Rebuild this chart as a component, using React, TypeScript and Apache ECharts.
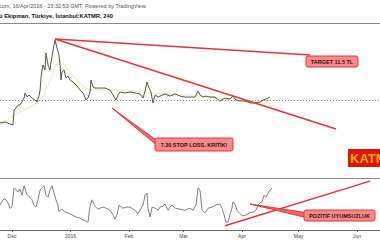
import React, { useEffect, useRef } from "react";
import * as echarts from "echarts";

// x values: days since 1 Dec 2015
const monthTicks = [0, 31, 62, 91, 122, 152, 183];
const monthLabels = ["Dec", "2016", "Feb", "Mar", "Apr", "May", "Jun"];

const priceDays = [
  -6.4, -3.7, -1.1, 0.5, 1.1, 2.1, 3.2, 4.2, 5.3, 6.4, 6.9, 8.0, 9.0, 10.6, 12.2, 13.3, 14.3, 14.9,
  15.4, 16.4, 17.5, 18.0, 19.1, 20.2, 20.7, 21.8, 22.8, 23.9, 24.9, 25.5, 26.0, 26.5, 27.6, 28.6,
  29.7, 30.8, 32.4, 34.0, 36.1, 37.7, 39.3, 40.3, 41.4, 41.9, 43.0, 44.0, 45.6, 46.7, 49.3, 52.0,
  53.6, 55.2, 56.2, 57.3, 59.9, 62.6, 65.3, 67.9, 69.5, 70.6, 71.6, 72.7, 73.7, 74.8, 75.9, 77.5,
  78.5, 81.2, 83.8, 86.5, 89.1, 91.8, 94.4, 97.1, 98.7, 99.7, 101.3, 102.9, 105.0, 107.7, 110.3,
  113.0, 115.6, 117.2, 118.8, 121.0, 123.6, 126.3, 128.9, 131.6, 133.2, 134.7, 136.9,
];
const priceValues = [
  6.36, 6.42, 6.30, 6.23, 7.15, 7.27, 7.46, 7.46, 7.64, 7.88, 8.19, 7.94, 8.07, 7.88, 7.76, 7.64, 8.0, 8.37,
  9.16, 9.9, 9.59, 10.63, 9.9, 9.59, 10.08, 10.81, 11.42, 10.93, 10.51, 9.9, 8.98, 9.47, 9.59, 9.1,
  9.23, 8.98, 8.86, 8.68, 8.37, 8.19, 7.76, 7.88, 8.25, 8.98, 8.55, 8.49, 8.49, 8.49, 8.49, 8.37,
  8.07, 7.76, 8.07, 8.25, 8.19, 8.25, 8.19, 8.13, 7.88, 8.31, 8.86, 8.49, 8.25, 7.58, 8.07, 7.94,
  8.0, 8.13, 8.0, 8.13, 8.0, 7.94, 7.94, 7.94, 8.31, 8.07, 7.94, 8.0, 7.94, 7.94, 7.7,
  7.88, 7.82, 8.0, 7.76, 7.7, 7.7, 7.58, 7.58, 7.64, 7.76, 7.82, 7.94,
];

const maDays = [-6.4, 4.2, 14.9, 20.2, 25.5, 30.8, 36.1, 41.4, 52.0, 73.2, 99.7, 126.3, 136.9];
const maValues = [6.23, 7.03, 7.76, 8.98, 10.08, 9.47, 8.8, 8.37, 8.37, 8.19, 8.0, 7.7, 7.76];

const oscDays = [
  -6.4, -4.8, -3.7, -2.1, -1.1, 0, 1.1, 2.1, 3.2, 4.2, 5.3, 6.4, 8.0, 9.5, 10.6, 11.7, 12.7, 13.8,
  14.9, 15.9, 17.0, 18.0, 19.1, 20.2, 21.2, 22.3, 23.3, 24.4, 24.9, 25.5, 26.5, 28.1, 29.7, 31.8,
  34.0, 36.1, 37.7, 39.3, 40.3, 41.4, 42.4, 44.0, 45.6, 46.7, 48.3, 49.9, 52.0, 53.6, 54.6, 55.7,
  56.8, 57.3, 58.9, 60.5, 62.6, 64.2, 65.3, 66.8, 67.9, 69.5, 70.6, 71.6, 72.1, 73.2, 74.3, 75.9,
  77.5, 78.5, 80.1, 81.2, 82.8, 83.8, 84.9, 86.5, 89.1, 91.8, 94.4, 96.0, 97.6, 98.7, 99.7, 100.8,
  102.4, 104.0, 106.1, 108.2, 110.3, 111.4, 112.5, 113.5, 114.6, 115.6, 116.7, 117.2, 118.3, 119.4,
  121.0, 122.5, 124.1, 126.3, 128.4, 129.4, 130.5, 131.6, 132.6, 133.7, 134.7, 135.8, 136.9, 138.0,
];
const oscValues = [
  48, 58, 60, 52, 42, 44, 81, 77, 73, 79, 67, 85, 67, 63, 58, 48, 44, 58,
  77, 81, 85, 67, 63, 77, 85, 71, 58, 48, 35, 38, 40, 35, 33, 29,
  25, 23, 19, 17, 15, 46, 58, 46, 40, 42, 44, 42, 38, 29, 21, 29,
  48, 46, 42, 44, 44, 40, 38, 31, 38, 48, 67, 71, 42, 25, 44, 42,
  38, 44, 46, 50, 38, 44, 48, 42, 40, 38, 42, 38, 48, 81, 77, 38,
  33, 42, 44, 48, 50, 42, 29, 15, 15, 29, 42, 54, 50, 38,
  31, 27, 29, 33, 35, 38, 48, 52, 54, 67, 63, 71, 77, 81,
];

const lastPrice = 7.76;
const targetLine = [[22.8, 11.48], [158.1, 10.51]];
const stopLine = [[22.8, 11.48], [171.9, 5.99]];
const divergenceLine = [[113.0, 8], [189.9, 94]];

const RED = "#e8303a";
const FONT = "Liberation Sans, Arial, sans-serif";

function zip(xs: number[], ys: number[]) {
  return xs.map((x, i) => [x, ys[i]]);
}

function callout(
  tip: [number, number] | null,
  box: { x: number; y: number; w: number; h: number },
  text: string
) {
  const els: any[] = [];
  const cy = box.y + box.h / 2;
  if (tip) {
    els.push({
      type: "polygon",
      shape: {
        points: [tip, [box.x + 4, cy - 2.5], [box.x + 4, cy + 2.5]],
      },
      style: { fill: "#f06868", stroke: RED, lineWidth: 1 },
      z: 10,
    });
  }
  els.push({
    type: "rect",
    shape: { x: box.x, y: box.y, width: box.w, height: box.h, r: 2 },
    style: { fill: "#f58a8a", stroke: RED, lineWidth: 1 },
    z: 11,
  });
  els.push({
    type: "text",
    x: box.x + box.w / 2,
    y: cy,
    style: {
      text,
      fill: "#3a0a0a",
      font: `bold 5.5px ${FONT}`,
      align: "center",
      verticalAlign: "middle",
    },
    z: 12,
  });
  return els;
}

export default function App() {
  const ref = useRef<HTMLDivElement>(null);
  useEffect(() => {
    if (!ref.current) return;
    const chart = echarts.init(ref.current, undefined, { renderer: "svg" });
    const xMin = -6.37;
    const xMax = 195.2;
    const labelMap: Record<number, string> = {};
    monthTicks.forEach((t, i) => (labelMap[t] = monthLabels[i]));
    chart.setOption({
      animation: false,
      backgroundColor: "#ffffff",
      grid: [
        { left: 0, right: 0, top: 24, height: 154 },
        { left: 0, right: 0, top: 178, height: 52 },
      ],
      xAxis: [
        { type: "value", gridIndex: 0, min: xMin, max: xMax, show: false },
        {
          type: "value",
          gridIndex: 1,
          min: xMin,
          max: xMax,
          splitLine: { show: false },
          axisLine: { show: true, lineStyle: { color: "#666", width: 1 } },
          axisTick: {
            show: true,
            length: 2,
            customValues: monthTicks,
            lineStyle: { color: "#666" },
          },
          axisLabel: {
            customValues: monthTicks,
            formatter: (v: number) => labelMap[v] ?? "",
            fontSize: 5,
            color: "#444",
            margin: 3,
            fontFamily: FONT,
          },
        },
      ],
      yAxis: [
        { type: "value", gridIndex: 0, min: 3, max: 12.4, show: false },
        { type: "value", gridIndex: 1, min: 0, max: 100, show: false },
      ],
      series: [
        {
          type: "line",
          xAxisIndex: 0,
          yAxisIndex: 0,
          data: zip(maDays, maValues),
          showSymbol: false,
          smooth: true,
          lineStyle: { color: "#f4efc8", width: 1.5 },
          z: 2,
        },
        {
          type: "line",
          xAxisIndex: 0,
          yAxisIndex: 0,
          data: zip(priceDays, priceValues),
          showSymbol: false,
          lineStyle: { color: "#4f5a3c", width: 1 },
          z: 3,
          markLine: {
            silent: true,
            symbol: "none",
            label: { show: false },
            lineStyle: { color: "#888", type: [1, 2], width: 1 },
            data: [{ yAxis: lastPrice }],
          },
        },
        {
          type: "line",
          xAxisIndex: 0,
          yAxisIndex: 0,
          data: targetLine,
          showSymbol: false,
          lineStyle: { color: RED, width: 1.5 },
          z: 5,
        },
        {
          type: "line",
          xAxisIndex: 0,
          yAxisIndex: 0,
          data: stopLine,
          showSymbol: false,
          lineStyle: { color: RED, width: 1.5 },
          z: 5,
        },
        {
          type: "line",
          xAxisIndex: 1,
          yAxisIndex: 1,
          data: zip(oscDays, oscValues),
          showSymbol: false,
          lineStyle: { color: "#808080", width: 1 },
          z: 3,
        },
        {
          type: "line",
          xAxisIndex: 1,
          yAxisIndex: 1,
          data: divergenceLine,
          showSymbol: false,
          lineStyle: { color: RED, width: 1.5 },
          z: 5,
        },
      ],
      graphic: [
        {
          type: "text",
          x: -1,
          y: 6,
          style: {
            text: "com, 16/Apr/2016 - 23:32:53 GMT, Powered by TradingView.",
            fill: "#555",
            font: `5.5px ${FONT}`,
            verticalAlign: "middle",
          },
        },
        {
          type: "text",
          x: -1,
          y: 16,
          style: {
            text: "ü Ekipman, Türkiye, İstanbul:KATMR, 240",
            fill: "#111",
            font: `bold 5.8px ${FONT}`,
            verticalAlign: "middle",
          },
        },
        {
          type: "line",
          shape: { x1: 0, y1: 23.5, x2: 380, y2: 23.5 },
          style: { stroke: "#888", lineWidth: 1 },
        },
        {
          type: "line",
          shape: { x1: 0, y1: 178.5, x2: 380, y2: 178.5 },
          style: { stroke: "#888", lineWidth: 1 },
        },
        ...callout(null, { x: 306, y: 56, w: 52, h: 11 }, "TARGET 11.5 TL"),
        ...callout([112, 108], { x: 155, y: 138, w: 78, h: 13 }, "7.30 STOP LOSS. KRİTİK!"),
        ...callout([250, 204], { x: 304, y: 210, w: 71, h: 11 }, "POZİTİF UYUMSUZLUK"),
        {
          type: "rect",
          shape: { x: 348, y: 149, width: 40, height: 18 },
          style: { fill: "#e8100a" },
          z: 10,
        },
        {
          type: "text",
          x: 350,
          y: 158.5,
          style: {
            text: "KATMR",
            fill: "#ffb300",
            font: `bold 13px ${FONT}`,
            verticalAlign: "middle",
          },
          z: 11,
        },
      ],
    });
    return () => chart.dispose();
  }, []);
  return (
    <div
      ref={ref}
      style={{ position: "fixed", left: 0, top: 0, width: 380, height: 240 }}
    />
  );
}
